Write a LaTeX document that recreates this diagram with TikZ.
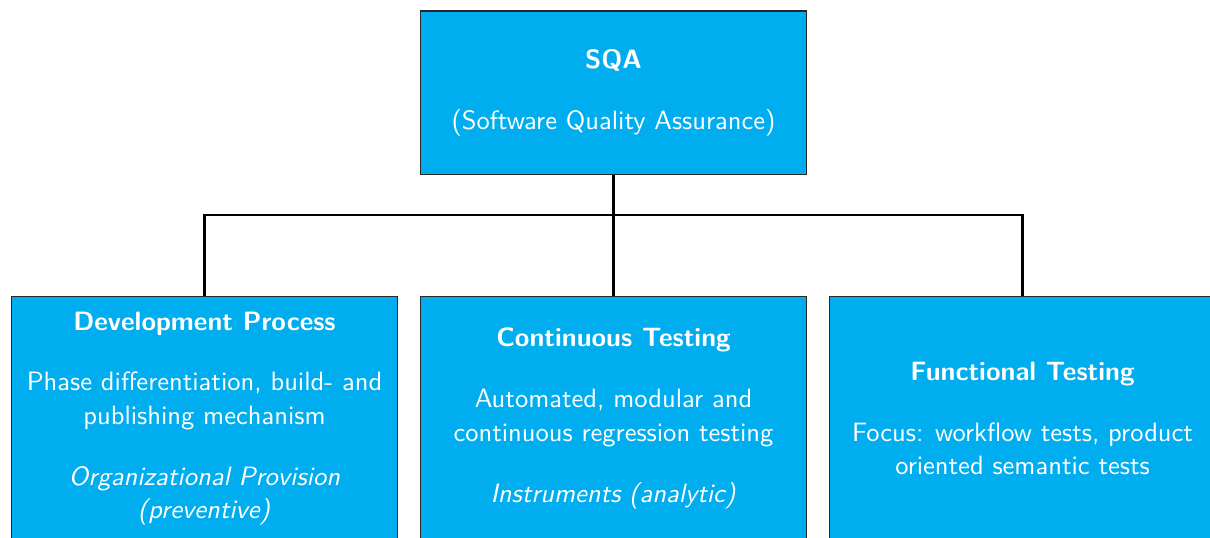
\documentclass[tikz,border=0pt]{standalone}
\usepackage{tikz}
\definecolor{boxblue}{RGB}{0,174,239}
\definecolor{boxline}{RGB}{40,40,40}
\begin{document}
\begin{tikzpicture}[x=0.3846pt,y=-0.3846pt,
  qbox/.style={rectangle, draw=boxline, line width=0.4pt, fill=boxblue, text=white,
    font=\sffamily\fontsize{10.2}{12.9}\selectfont, align=center, inner sep=0pt, minimum width=148.8pt},
  conn/.style={draw=black, line width=0.8pt}]
\clip (0,0) rectangle (1210,537);
\useasboundingbox (0,0) rectangle (1210,537);
\node[qbox, minimum height=62.7pt] (top) at (613.5,92.5)
  {\textbf{SQA}\\[10.5pt](Software Quality Assurance)};
\node[qbox, minimum height=93.5pt] (left) at (204.5,418.5)
  {\textbf{Development Process}\\[10.5pt]Phase differentiation, build- and\\publishing mechanism\\[10.5pt]\textit{Organizational Provision}\\\textit{(preventive)}};
\node[qbox, minimum height=93.5pt] (mid) at (613.5,418.5)
  {\textbf{Continuous Testing}\\[10.5pt]Automated, modular and\\continuous regression testing\\[10.5pt]\textit{Instruments (analytic)}};
\node[qbox, minimum height=93.5pt] (right) at (1022.5,418.5)
  {\textbf{Functional Testing}\\[10.5pt]Focus: workflow tests, product\\oriented semantic tests};
\coordinate (j) at (613.5,215);
\draw[conn] (top.south) -- (j);
\draw[conn] (j) -- (mid.north);
\draw[conn] (left.north) |- (j) -| (right.north);
\end{tikzpicture}
\end{document}
